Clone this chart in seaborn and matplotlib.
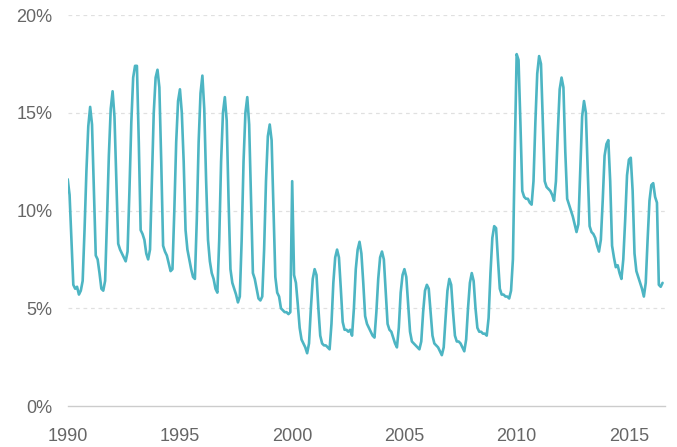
import numpy as np
import pandas as pd
import matplotlib
matplotlib.use("Agg")
import matplotlib.pyplot as plt
import seaborn as sns

# Monthly rates (%), Jan..Dec per year
y1990 = [11.6, 10.8, 8.5, 6.2, 6.0, 6.1, 5.7, 5.9, 6.4, 9.0, 12.0, 14.3]
y1991 = [15.3, 14.4, 11.0, 7.7, 7.5, 6.8, 6.0, 5.9, 6.4, 9.5, 12.8, 15.2]
y1992 = [16.1, 14.8, 11.5, 8.3, 8.0, 7.8, 7.6, 7.4, 7.9, 11.0, 14.5, 16.8]
y1993 = [17.4, 17.4, 13.5, 9.0, 8.8, 8.5, 7.8, 7.5, 8.0, 11.5, 15.0, 16.8]
y1994 = [17.2, 16.3, 12.5, 8.2, 7.9, 7.7, 7.3, 6.9, 7.0, 10.0, 13.5, 15.6]
y1995 = [16.2, 15.0, 12.5, 9.0, 8.0, 7.5, 7.0, 6.6, 6.5, 9.5, 13.5, 16.0]
y1996 = [16.9, 15.2, 11.5, 8.5, 7.4, 6.8, 6.5, 6.0, 5.8, 8.5, 12.5, 15.0]
y1997 = [15.8, 14.6, 10.5, 7.0, 6.3, 6.0, 5.7, 5.3, 5.6, 8.5, 12.5, 15.0]
y1998 = [15.8, 14.4, 10.5, 6.8, 6.5, 6.0, 5.5, 5.4, 5.6, 8.0, 11.5, 13.8]
y1999 = [14.4, 13.6, 10.0, 6.6, 5.8, 5.6, 5.0, 4.9, 4.8, 4.8, 4.7, 4.8]
y2000 = [11.5, 6.7, 6.3, 5.2, 4.0, 3.4, 3.2, 3.0, 2.7, 3.2, 5.0, 6.5]
y2001 = [7.0, 6.7, 5.0, 3.6, 3.2, 3.1, 3.1, 3.0, 2.9, 4.2, 6.3, 7.6]
y2002 = [8.0, 7.6, 6.0, 4.3, 3.9, 3.9, 3.8, 3.9, 3.6, 5.0, 7.0, 8.0]
y2003 = [8.4, 7.8, 6.3, 4.6, 4.2, 4.0, 3.8, 3.6, 3.5, 4.8, 6.5, 7.6]
y2004 = [7.9, 7.5, 5.8, 4.2, 3.9, 3.8, 3.5, 3.2, 3.0, 4.0, 5.8, 6.7]
y2005 = [7.0, 6.6, 5.2, 3.8, 3.3, 3.2, 3.1, 3.0, 2.9, 3.3, 4.8, 5.9]
y2006 = [6.2, 6.0, 4.8, 3.6, 3.2, 3.1, 3.0, 2.8, 2.6, 3.0, 4.5, 5.9]
y2007 = [6.5, 6.2, 4.8, 3.6, 3.3, 3.3, 3.2, 3.0, 2.8, 3.4, 5.0, 6.3]
y2008 = [6.8, 6.4, 5.0, 4.0, 3.8, 3.8, 3.7, 3.7, 3.6, 4.5, 6.8, 8.6]
y2009 = [9.2, 9.1, 7.5, 6.0, 5.7, 5.7, 5.6, 5.6, 5.5, 5.9, 7.5, 13.0]
y2010 = [18.0, 17.7, 14.5, 11.0, 10.7, 10.6, 10.6, 10.4, 10.3, 11.5, 14.5, 17.0]
y2011 = [17.9, 17.5, 14.5, 11.5, 11.2, 11.1, 11.0, 10.8, 10.5, 11.5, 14.0, 16.2]
y2012 = [16.8, 16.3, 13.0, 10.6, 10.3, 10.0, 9.7, 9.3, 8.9, 9.3, 12.0, 14.8]
y2013 = [15.6, 15.0, 12.0, 9.2, 8.9, 8.8, 8.6, 8.2, 7.9, 8.5, 10.5, 12.8]
y2014 = [13.4, 13.6, 11.5, 8.2, 7.6, 7.1, 7.2, 6.8, 6.5, 7.5, 9.5, 11.8]
y2015 = [12.6, 12.7, 11.0, 7.8, 6.9, 6.6, 6.3, 6.0, 5.6, 6.3, 8.5, 10.5]
y2016 = [11.3, 11.4, 10.7, 10.4, 6.2, 6.1, 6.3]

years = [y1990, y1991, y1992, y1993, y1994, y1995, y1996, y1997, y1998, y1999,
         y2000, y2001, y2002, y2003, y2004, y2005, y2006, y2007, y2008, y2009,
         y2010, y2011, y2012, y2013, y2014, y2015, y2016]

values = [v for yr in years for v in yr]
dates = [1990 + i / 12 for i in range(len(values))]
df = pd.DataFrame({"t": dates, "rate": values})

x_ticks = [1990, 1995, 2000, 2005, 2010, 2015]
y_ticks = [0, 5, 10, 15, 20]
y_labels = ["0%", "5%", "10%", "15%", "20%"]

sns.set_theme(style="white")
plt.rcParams["font.family"] = ["Liberation Sans", "DejaVu Sans"]

fig = plt.figure(figsize=(6.77, 4.47), dpi=100)
ax = fig.add_axes([0.1, 0.0917, 0.882, 0.8747])

sns.lineplot(data=df, x="t", y="rate", ax=ax, color="#4db5c3", linewidth=1.9)

ax.set_xlim(1990, 2016.6)
ax.set_ylim(0, 20)
ax.set_xticks(x_ticks)
ax.set_xticklabels([str(t) for t in x_ticks])
ax.set_yticks(y_ticks)
ax.set_yticklabels(y_labels)
ax.set_xlabel("")
ax.set_ylabel("")

for v in y_ticks[1:]:
    ax.axhline(v, color="#e0e0e0", linewidth=0.9, linestyle=(0, (3, 3)), zorder=0)

for s in ["top", "right", "left"]:
    ax.spines[s].set_visible(False)
ax.spines["bottom"].set_color("#cccccc")
ax.spines["bottom"].set_linewidth(1.0)

ax.tick_params(axis="x", colors="#666666", labelsize=13, length=6, width=1,
               direction="out", pad=10, color="#cccccc")
ax.tick_params(axis="y", colors="#666666", labelsize=13, length=0, pad=11)
for lab in ax.get_xticklabels() + ax.get_yticklabels():
    lab.set_color("#666666")

fig.savefig("out.png", dpi=100)
